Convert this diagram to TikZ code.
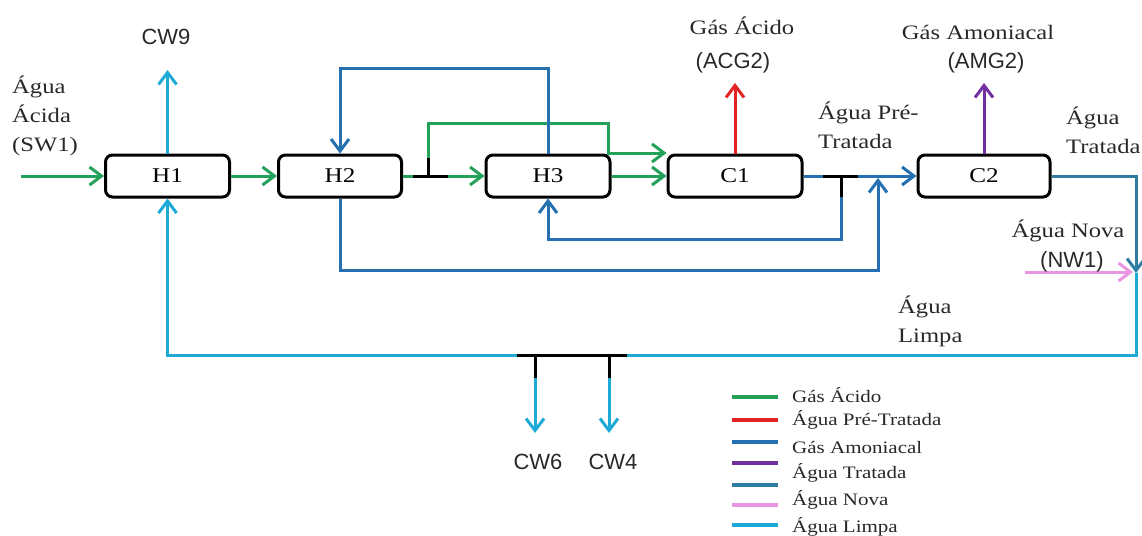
\documentclass[tikz,border=0pt]{standalone}
\usepackage{fontspec}
\setmainfont[FakeStretch=1.2]{Liberation Serif}
\setsansfont{Liberation Sans}
\usetikzlibrary{arrows.meta}
\definecolor{cgreen}{RGB}{36,161,88}
\definecolor{cred}{RGB}{225,35,35}
\definecolor{cblue}{RGB}{37,112,176}
\definecolor{cpurple}{RGB}{112,48,160}
\definecolor{cteal}{RGB}{46,125,160}
\definecolor{cpink}{RGB}{232,150,225}
\definecolor{clblue}{RGB}{30,170,215}
\definecolor{ctext}{RGB}{40,40,40}
\begin{document}
\begin{tikzpicture}[x=1pt,y=-1pt,
  pipe/.style={line width=3pt},
  flow/.style={line width=3pt,-{Straight Barb[length=12pt,width=18pt]}},
  unitbox/.style={draw=black,line width=3pt,rounded corners=7pt,minimum height=42pt,inner sep=0pt,fill=white,font=\fontsize{21}{24}\selectfont},
  lab/.style={font=\fontsize{20.5}{29}\selectfont,text=ctext,inner sep=0pt},
  slab/.style={font=\sffamily\fontsize{22}{26}\selectfont,text=ctext,inner sep=0pt},
  leg/.style={font=\fontsize{17.5}{24}\selectfont,text=ctext,inner sep=0pt,anchor=base west},
  legline/.style={line width=3.5pt}]
\useasboundingbox (0,0) rectangle (1142,535);
% units
\node[unitbox,minimum width=124pt] (H1) at (167.5,176) {H1};
\node[unitbox,minimum width=123pt] (H2) at (340,176) {H2};
\node[unitbox,minimum width=124pt] (H3) at (548,176) {H3};
\node[unitbox,minimum width=134pt] (C1) at (735,176) {C1};
\node[unitbox,minimum width=132pt] (C2) at (984,176) {C2};
% coordinates
\coordinate (in) at (21,176);
\coordinate (cw9) at (167.5,70);
\coordinate (ga) at (413,176);
\coordinate (gb) at (448,176);
\coordinate (gs) at (428,176);
\coordinate (gt) at (428,158);
\coordinate (g1) at (428,123);
\coordinate (g2) at (608,123);
\coordinate (g3) at (608,153);
\coordinate (b1) at (548,68);
\coordinate (b3) at (878,270);
\coordinate (b4) at (878,178);
\coordinate (ka) at (823,176);
\coordinate (kb) at (858,176);
\coordinate (ks) at (841,176);
\coordinate (kt) at (841,197);
\coordinate (k1) at (841,239);
\coordinate (acg) at (735,83);
\coordinate (amg) at (984,83);
\coordinate (r1) at (1136,176);
\coordinate (r2) at (1136,273);
\coordinate (nw) at (1025,272);
\coordinate (nwe) at (1133,272);
\coordinate (r3) at (1136,355);
\coordinate (la) at (517,355);
\coordinate (lb) at (627,355);
\coordinate (l6) at (535,355);
\coordinate (l6t) at (535,378);
\coordinate (l6e) at (535,433);
\coordinate (l4) at (609,355);
\coordinate (l4t) at (609,378);
\coordinate (l4e) at (609,433);
% green streams
\draw[flow,cgreen] (in) -- (H1.west);
\draw[flow,cgreen] (H1) -- (H2);
\draw[flow,cgreen] (H2) -- (H3);
\draw[flow,cgreen] (gt) -- (g1) -- (g2) -- (g3) -- (C1.west |- g3);
\draw[pipe,black] (ga) -- (gb);
\draw[pipe,black] (gs) -- (gt);
\draw[flow,cgreen] (H3) -- (C1);
% blue streams
\draw[flow,cblue] (H3.north) -- (b1) -| (H2.north);
\draw[flow,cblue] (H2.south) |- (b3) -- (b4);
\draw[flow,cblue] (C1) -- (C2);
\draw[pipe,black] (ka) -- (kb);
\draw[pipe,black] (ks) -- (kt);
\draw[flow,cblue] (kt) -- (k1) -| (H3.south);
% gas outputs
\draw[flow,cred] (C1.north) -- (acg);
\draw[flow,cpurple] (C2.north) -- (amg);
\draw[flow,clblue] (H1.north) -- (cw9);
% treated / new / clean water
\draw[flow,cteal] (C2.east) -- (r1) -- (r2);
\draw[flow,cpink] (nw) -- (nwe);
\draw[flow,clblue] (r2) -- (r3) -| (H1.south);
\draw[pipe,black] (la) -- (lb);
\draw[pipe,black] (l6) -- (l6t);
\draw[pipe,black] (l4) -- (l4t);
\draw[flow,clblue] (l6t) -- (l6e);
\draw[flow,clblue] (l4t) -- (l4e);
% labels
\node[slab,anchor=base] (lcw9) at (166,45) {CW9};
\node[lab,anchor=base west,align=left] (lsw1) at (12,151) {Água\\Ácida\\(SW1)};
\node[lab,anchor=base] (lacg) at (742,35) {Gás Ácido};
\node[slab,anchor=base] (lacg2) at (733,68) {(ACG2)};
\node[lab,anchor=base] (lamg) at (978,40) {Gás Amoniacal};
\node[slab,anchor=base] (lamg2) at (986,69) {(AMG2)};
\node[lab,anchor=base west,align=left] (lpre) at (818,148) {Água Pré-\\Tratada};
\node[lab,anchor=base west,align=left] (ltrat) at (1066,153) {Água\\Tratada};
\node[lab,anchor=base] (lnova) at (1068,237) {Água Nova};
\node[slab,anchor=base] (lnw1) at (1072,267) {(NW1)};
\node[lab,anchor=base west,align=left] (llimpa) at (898,342) {Água\\Limpa};
\node[slab,anchor=base] (lcw6) at (538,469) {CW6};
\node[slab,anchor=base] (lcw4) at (613,469) {CW4};
% legend
\draw[legline,cgreen] (732,397) -- (778,397);
\draw[legline,cred] (732,420) -- (778,420);
\draw[legline,cblue] (732,442) -- (778,442);
\draw[legline,cpurple] (732,463) -- (778,463);
\draw[legline,cteal] (732,485) -- (778,485);
\draw[legline,cpink] (732,505) -- (778,505);
\draw[legline,clblue] (732,525) -- (778,525);
\node[leg] (t1) at (792,402) {Gás Ácido};
\node[leg] (t2) at (792,425) {Água Pré-Tratada};
\node[leg] (t3) at (792,453) {Gás Amoniacal};
\node[leg] (t4) at (792,478) {Água Tratada};
\node[leg] (t5) at (792,505) {Água Nova};
\node[leg] (t6) at (792,532) {Água Limpa};
\end{tikzpicture}
\end{document}
